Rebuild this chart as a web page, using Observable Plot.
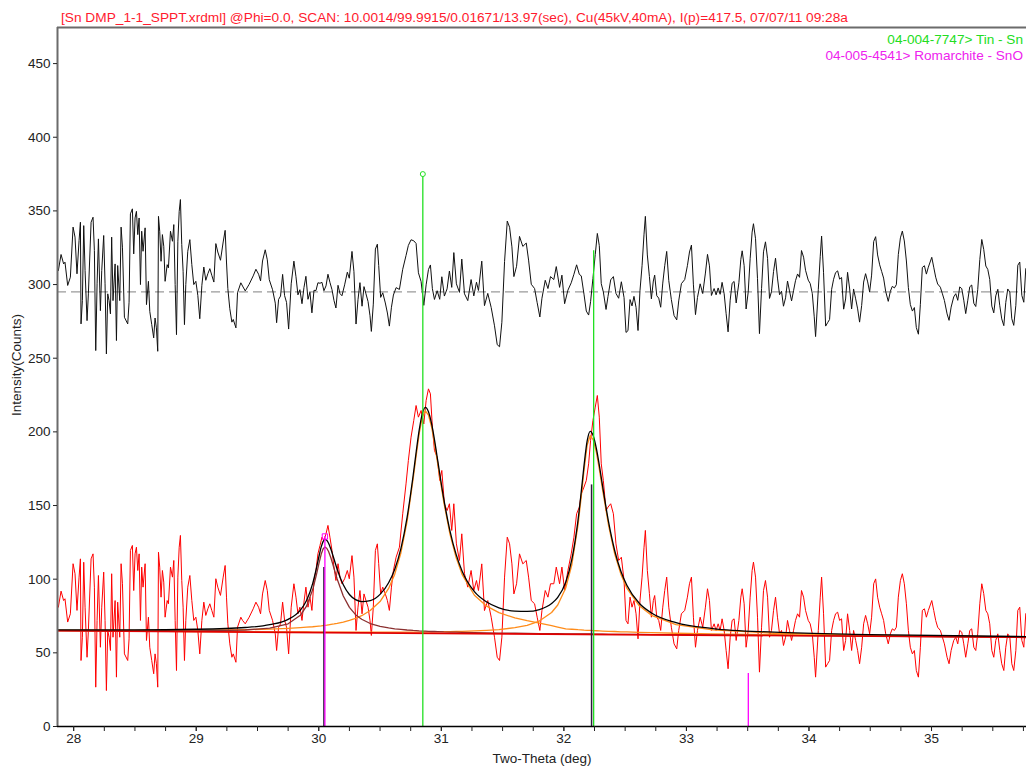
<!DOCTYPE html>
<html>
<head>
<meta charset="utf-8">
<script src="https://cdn.jsdelivr.net/npm/d3@7"></script>
<script src="https://cdn.jsdelivr.net/npm/@observablehq/plot@0.6"></script>
<style>
  html, body { margin: 0; padding: 0; background: #ffffff; }
  #wrap { position: relative; width: 1026px; height: 766px; font-family: "Liberation Sans", Arial, sans-serif; }
  #title { position: absolute; left: 61px; top: 11px; font-size: 13.7px; line-height: 14px; color: #ff1a2e; white-space: nowrap; }
  .leg { position: absolute; right: 3px; font-size: 13.6px; line-height: 14px; white-space: nowrap; text-align: right; }
  #leg1 { top: 33px; color: #22dd22; }
  #leg2 { top: 49px; color: #ee22ee; }
  #chart { position: absolute; left: 0; top: 0; }
</style>
</head>
<body>
<div id="wrap">
  <div id="chart"></div>
  <div id="title">[Sn DMP_1-1_SPPT.xrdml] @Phi=0.0, SCAN: 10.0014/99.9915/0.01671/13.97(sec), Cu(45kV,40mA), I(p)=417.5, 07/07/11 09:28a</div>
  <div id="leg1" class="leg">04-004-7747&gt; Tin - Sn</div>
  <div id="leg2" class="leg">04-005-4541&gt; Romarchite - SnO</div>
</div>
<script>
// ---------- axes ----------
const xDomain = [27.868, 35.775];
const yDomain = [0, 474.5];
const xMajorTicks = [28, 29, 30, 31, 32, 33, 34, 35];
const xMinorTicks = [28, 28.25, 28.5, 28.75, 29, 29.25, 29.5, 29.75, 30, 30.25, 30.5, 30.75,
  31, 31.25, 31.5, 31.75, 32, 32.25, 32.5, 32.75, 33, 33.25, 33.5, 33.75,
  34, 34.25, 34.5, 34.75, 35, 35.25, 35.5, 35.75];
const yTicks = [0, 50, 100, 150, 200, 250, 300, 350, 400, 450];
const xLabel = "Two-Theta (deg)";
const yLabel = "Intensity(Counts)";
const residualBase = 295;

// ---------- measured scan (2-theta, counts) and difference curve ----------
const scanX = [
27.875, 27.897, 27.918, 27.929, 27.951, 27.973, 27.995, 28.011, 28.027, 28.044,
28.055, 28.060, 28.071, 28.082, 28.093, 28.109, 28.120, 28.142, 28.158, 28.169,
28.180, 28.191, 28.202, 28.218, 28.229, 28.245, 28.256, 28.267, 28.278, 28.289,
28.300, 28.310, 28.321, 28.338, 28.349, 28.359, 28.376, 28.387, 28.398, 28.414,
28.441, 28.452, 28.463, 28.479, 28.490, 28.501, 28.512, 28.523, 28.534, 28.545,
28.555, 28.566, 28.583, 28.594, 28.610, 28.621, 28.637, 28.653, 28.664, 28.675,
28.686, 28.692, 28.702, 28.713, 28.724, 28.735, 28.746, 28.763, 28.773, 28.790,
28.806, 28.817, 28.828, 28.839, 28.850, 28.861, 28.871, 28.882, 28.893, 28.904,
28.915, 28.931, 28.948, 28.964, 28.980, 28.997, 29.013, 29.029, 29.046, 29.062,
29.078, 29.095, 29.111, 29.127, 29.144, 29.160, 29.176, 29.198, 29.220, 29.236,
29.247, 29.258, 29.274, 29.291,
29.302, 29.324, 29.337, 29.364, 29.378, 29.400, 29.432, 29.465, 29.487, 29.509,
29.525, 29.541, 29.563, 29.580, 29.596, 29.623, 29.645, 29.656, 29.672, 29.688,
29.705, 29.721, 29.737, 29.754, 29.775, 29.797, 29.814, 29.830, 29.846, 29.863,
29.879, 29.895, 29.912, 29.928, 29.944, 29.961, 29.977, 29.993, 30.010, 30.026,
30.042, 30.059, 30.075, 30.091, 30.108, 30.124, 30.140, 30.157, 30.173, 30.189,
30.211, 30.233, 30.249, 30.271, 30.287, 30.304, 30.320, 30.336, 30.353, 30.369,
30.385, 30.402, 30.418, 30.429, 30.445, 30.462, 30.478, 30.489, 30.505, 30.522,
30.543, 30.560, 30.576, 30.593, 30.609,
30.631, 30.658, 30.685, 30.712, 30.731, 30.753, 30.775, 30.794, 30.813, 30.835,
30.857, 30.876, 30.895, 30.911, 30.927, 30.944, 30.966, 30.987, 31.004, 31.025,
31.047, 31.066, 31.085, 31.102, 31.123, 31.148, 31.167, 31.189, 31.216, 31.243,
31.265, 31.287, 31.303, 31.330, 31.352, 31.379, 31.407, 31.434, 31.456, 31.475,
31.494, 31.516, 31.538, 31.557, 31.576, 31.592, 31.614, 31.638, 31.665, 31.693,
31.712, 31.734, 31.761, 31.782, 31.804, 31.821, 31.848, 31.870, 31.891, 31.918,
31.938, 31.965, 31.984, 32.006, 32.033, 32.060, 32.082, 32.104, 32.126, 32.142,
32.164, 32.183, 32.202, 32.218, 32.237, 32.256, 32.273, 32.289, 32.305, 32.322,
32.344, 32.360, 32.382, 32.404, 32.425, 32.447, 32.469,
32.491, 32.507, 32.523, 32.540, 32.556, 32.572, 32.589, 32.605, 32.621, 32.638,
32.654, 32.665, 32.681, 32.698, 32.714, 32.730, 32.741, 32.758, 32.774, 32.790,
32.807, 32.823, 32.839, 32.856, 32.877, 32.899, 32.921, 32.937, 32.959, 32.986,
33.008, 33.025, 33.041, 33.057, 33.074, 33.090, 33.112, 33.133, 33.155, 33.172,
33.188, 33.204, 33.226, 33.242, 33.259, 33.275, 33.291, 33.308, 33.324, 33.340,
33.357, 33.373, 33.389, 33.406, 33.428, 33.444, 33.455, 33.471, 33.487, 33.504,
33.520, 33.536, 33.547, 33.564, 33.580, 33.596, 33.613, 33.629, 33.645, 33.662,
33.678, 33.694, 33.711, 33.727, 33.743, 33.760, 33.776, 33.792, 33.809, 33.825,
33.841, 33.858, 33.874, 33.890, 33.907, 33.923, 33.939, 33.956, 33.972, 33.994,
34.010, 34.027, 34.043, 34.054, 34.076, 34.092, 34.103, 34.119,
34.136, 34.152, 34.168, 34.185, 34.201, 34.217, 34.234, 34.250, 34.266, 34.283,
34.299, 34.315, 34.332, 34.348, 34.364, 34.381, 34.397, 34.413, 34.430, 34.446,
34.462, 34.479, 34.495, 34.511, 34.528, 34.544, 34.560, 34.577, 34.593, 34.609,
34.626, 34.647, 34.664, 34.680, 34.697, 34.713, 34.729, 34.746, 34.762, 34.778,
34.795, 34.811, 34.827, 34.844, 34.860, 34.876, 34.893, 34.909, 34.925, 34.942,
34.958, 34.974, 35.002, 35.018, 35.034, 35.050, 35.072, 35.089, 35.105, 35.127,
35.143, 35.160, 35.181, 35.198, 35.214, 35.230, 35.247, 35.263, 35.279, 35.296,
35.312, 35.328, 35.345, 35.361, 35.377, 35.394, 35.410, 35.426, 35.443, 35.459,
35.475, 35.492, 35.508, 35.524, 35.541, 35.557, 35.573, 35.590, 35.606, 35.622,
35.639, 35.655, 35.671, 35.688, 35.704, 35.720, 35.737, 35.753, 35.769, 35.786
];
const scanCounts = [
81, 91.9, 85.5, 86.7, 70.9, 76.5, 110.5, 103.7, 78.8, 101.4,
113.8, 44.8, 60.6, 111.5, 81, 47, 65.2, 113.8, 117.2, 94.6,
26.7, 72, 102.5, 53.8, 81, 104.8, 72, 24.4, 65.2, 60.6,
51.6, 103.7, 60.6, 85.5, 33.5, 84.4, 60.6, 110.5, 96.9, 49.3,
44.8, 59.5, 119.5, 122.9, 92.3, 117.2, 121.7, 105.9, 117.2, 72,
108.2, 94.6, 110.5, 58.4, 74.2, 53.8, 44.8, 35.8, 49.3, 42.6,
26.7, 118.3, 108.2, 87.8, 105.9, 98, 74.2, 85.5, 83.3, 108.2,
101.4, 112.7, 72, 38, 101.4, 121.7, 129.7, 99.1, 81, 44.8,
72, 94.6, 102.5, 85.5, 72, 74.2, 65.2, 49.3, 72, 84.4,
75.4, 79.9, 83.3, 78.8, 74.2, 100.3, 94.6, 89, 101.4, 109.3,
87.8, 69.7, 56.1, 47,
49.3, 43.6, 67.4, 74.2, 72, 69.7, 74.2, 79.9, 84.4, 81,
76.5, 90, 99.1, 92.3, 78.8, 72, 62.9, 51.6, 67.4, 69.7,
84.4, 72, 67.4, 49.3, 81, 96.9, 87.8, 76.5, 81, 72,
84.4, 94.6, 81, 87.8, 78.8, 99.1, 105.9, 117.2, 122.9, 128.5,
126.3, 130.8, 136.5, 128.5, 119.5, 108.2, 99.1, 110.5, 101.4, 96.9,
100.3, 105.9, 100.3, 116, 101.4, 65.2, 81, 92.3, 76.5, 90,
85.5, 81, 72, 61.8, 81, 119.5, 124, 110.5, 90, 94.6,
90, 85.5, 78.8, 94.6, 105.9,
114.9, 121.7, 144.4, 164.7, 180.6, 196.4, 207.7, 217.9, 210, 214.5,
205.4, 221.3, 229.2, 225.8, 203.2, 187.4, 182.8, 167, 173.8, 151.2,
146.6, 151.2, 133.1, 151.2, 124, 112.7, 130.8, 103.7, 94.6, 105.9,
92.3, 99.1, 92.3, 110.4, 78.7, 85.5, 74.2, 60.6, 47, 44.8,
60.6, 101.4, 128.5, 124, 110.4, 90, 96.9, 117.2, 110.4, 112.7,
101.4, 85.5, 83.3, 74.2, 65.2, 78.7, 92.3, 87.8, 96.9, 96.9,
108.2, 96.9, 108.2, 92.3, 105.9, 117.2, 128.5, 144.4, 148.9, 157.9,
162.5, 167, 178.3, 194.2, 207.7, 216.8, 224.7, 210, 178.3, 167,
146.6, 148.9, 151.2, 144.4, 124, 112.7, 114.9,
99.1, 72, 69.7, 87.8, 81, 85.5, 76.5, 59.5, 85.5, 101.4,
121.7, 133.1, 105.9, 90.2, 74.2, 85.5, 88.9, 74.2, 72, 65.2,
81, 92.3, 101.4, 81, 67.4, 56.1, 52.7, 65.2, 76.5, 78.8,
87.8, 96.9, 101.4, 74.2, 53.8, 65.2, 74.2, 67.4, 81, 93.5,
85.5, 65.2, 69.7, 65.2, 69.7, 65.2, 73.1, 65.2, 51.6, 39.2,
60.6, 72, 73.1, 58.4, 72, 87.8, 93.5, 83.3, 53.8, 65.2,
87.8, 105.9, 111.6, 101.4, 74.2, 36.9, 67.4, 92.3, 99.1, 87.8,
60.6, 65.2, 78.8, 87.8, 74.2, 62.9, 65.2, 55, 60.6, 72,
65.2, 58.4, 65.2, 72, 76.5, 74.2, 92.3, 87.8, 78.8, 72,
69.7, 62.9, 47, 33.5, 65.2, 87.8, 101.4, 76.5,
40.3, 42.6, 44.8, 65.2, 72, 76.5, 77.6, 72, 73.1, 51.6,
58.4, 76.5, 65.2, 51.6, 65.2, 58.4, 51.6, 42.6, 53.8, 69.7,
75.4, 69.7, 62.9, 74.2, 96.9, 100.2, 87.8, 81, 76.5, 72,
62.9, 56.1, 62.9, 66.3, 65.2, 67.4, 87.8, 99.1, 103.7, 96.9,
83.3, 65.2, 53.8, 49.3, 51.6, 38, 33.5, 53.8, 78.8, 79.9,
74.2, 78.8, 85.5, 78.8, 72, 67.4, 65.2, 60.6, 56.1, 47,
42.6, 51.6, 58.4, 60.6, 56.1, 65.2, 64, 56.1, 47, 56.1,
65.2, 66.3, 53.8, 51.6, 62.9, 83.3, 96.9, 90.2, 78.8, 76.5,
69.7, 51.6, 47, 58.4, 62.9, 51.6, 42.6, 38, 53.8, 62.9,
60.6, 42.6, 38, 51.6, 78.8, 81, 58.4, 53.8, 76.5, 78.8
];
const scanResidual = [
309.5, 320.4, 314, 315.2, 299.4, 305, 339, 332.2, 307.3, 329.9,
342.3, 273.3, 289.1, 340, 309.5, 275.5, 293.7, 342.3, 345.7, 323.1,
255.2, 300.5, 331, 282.3, 309.5, 333.3, 300.5, 252.9, 293.7, 289.1,
280.1, 332.2, 289.1, 314, 262, 312.9, 289.1, 339, 325.4, 277.8,
273.3, 288, 348, 351.4, 320.8, 345.2, 349.7, 333.9, 345.2, 300,
336.2, 322.6, 338.5, 286.4, 302.2, 281.8, 272.8, 263.8, 277.3, 270.6,
254.7, 346.3, 336.2, 315.8, 333.9, 326, 302.2, 313.5, 311.3, 336.2,
329.4, 340.7, 300, 266, 329.4, 349.7, 357.7, 327.1, 309, 272.8,
300, 322.6, 330.5, 313.5, 300, 302.2, 292.7, 276.8, 299.5, 311.9,
302.9, 307.4, 310.8, 306.3, 301.7, 327.8, 322.1, 316.5, 328.9, 336.8,
315.3, 297.2, 283.6, 274.5,
276.3, 270.6, 294.4, 301.2, 299, 295.7, 300.2, 305.9, 310.4, 307,
302.5, 316, 323.6, 316.8, 303.3, 296.5, 287.4, 274.1, 289.9, 292.2,
306.9, 292.5, 287.9, 269.8, 300.5, 315.9, 305.3, 293, 296.5, 287,
297.9, 305.6, 290, 294.8, 280.8, 296.1, 295.9, 301.2, 300.9, 301.5,
295.8, 299.1, 307, 301.5, 296.5, 289.2, 284.1, 299.5, 293.9, 292.4,
299.8, 308.4, 304.3, 322.5, 308.7, 273.2, 289.7, 301.3, 285.3, 298.6,
293.7, 288.5, 278.8, 268.2, 286.7, 324.1, 327.4, 313, 291.3, 294.4,
287.5, 280.7, 271.8, 284.6, 292.9,
297.9, 296.7, 310.4, 319.7, 326.6, 330.4, 329.7, 327.9, 308, 302,
285.9, 299.8, 310.2, 313.3, 297.2, 289.9, 295.8, 290, 305.3, 292.2,
297.1, 309.2, 298.1, 321.7, 300.5, 294.7, 317.3, 293.7, 289.1, 303.4,
292.3, 301.6, 296, 315.9, 285.7, 294, 284.4, 272, 259.2, 257.8,
274.4, 315.6, 343.1, 338.9, 325.6, 305.4, 312.4, 332.7, 325.9, 328.2,
316.6, 300.2, 297.3, 287.7, 278, 290.7, 302.9, 297.3, 305.4, 303.4,
312.2, 298.1, 306.4, 287, 296.2, 301.2, 307, 313.4, 306.9, 305.9,
293.5, 282, 279.3, 288.4, 304.1, 320.3, 334.7, 326.5, 300.6, 295,
283.1, 291.9, 303.2, 305.4, 294, 290.7, 301.9,
291.1, 267.5, 268.7, 289.8, 285.5, 292, 284.5, 268.8, 295.8, 312.8,
334.2, 346.3, 320.1, 305.4, 290.3, 302.4, 306.4, 292.4, 290.8, 284.6,
301, 312.8, 322.5, 302.7, 289.8, 279, 276, 288.9, 300.6, 303.4,
312.8, 322.1, 326.8, 299.8, 279.6, 291.2, 300.5, 293.9, 307.8, 320.5,
312.7, 292.6, 297.3, 293, 297.7, 293.4, 301.5, 293.7, 280.2, 267.9,
289.4, 300.9, 302.1, 287.5, 301.2, 317.1, 322.9, 312.8, 283.4, 294.8,
317.5, 335.6, 341.3, 331.1, 304, 266.7, 297.2, 322.2, 329, 317.8,
290.6, 295.2, 308.9, 317.9, 304.4, 293.1, 295.5, 285.3, 291, 302.4,
295.7, 288.9, 295.8, 302.6, 307.2, 304.9, 323.1, 318.6, 309.7, 303,
300.7, 294, 278.1, 264.7, 296.5, 319.2, 332.9, 308,
271.8, 274.1, 276.3, 296.8, 303.6, 308.1, 309.3, 303.7, 304.8, 283.3,
290.2, 308.3, 297, 283.4, 297, 290.3, 283.5, 274.5, 285.8, 301.7,
307.4, 301.8, 295, 306.4, 329.2, 332.5, 320.1, 313.4, 308.9, 304.4,
295.3, 288.6, 295.4, 298.8, 297.7, 299.9, 320.4, 331.7, 336.3, 329.6,
316, 297.9, 286.5, 282, 284.4, 270.8, 266.3, 286.6, 311.6, 312.8,
307.1, 311.8, 318.5, 311.8, 305, 300.4, 298.2, 293.7, 289.2, 280.1,
275.7, 284.7, 291.6, 293.8, 289.3, 298.4, 297.2, 289.4, 280.3, 289.4,
298.5, 299.7, 287.3, 285.1, 296.5, 316.9, 330.6, 323.9, 312.6, 310.3,
303.5, 285.4, 280.8, 292.3, 296.8, 285.6, 276.7, 272.1, 287.9, 297,
294.8, 276.8, 272.3, 285.9, 313.1, 315.3, 292.6, 288, 310.7, 313
];

// ---------- profile fit ----------
const fitX = [27.868, 28.5, 29.0, 29.4, 29.6, 29.75, 29.85, 29.9, 29.95, 29.98,
  30.0, 30.02, 30.035, 30.05, 30.065, 30.08, 30.1, 30.125, 30.15, 30.2,
  30.25, 30.3, 30.35, 30.42, 30.5, 30.57, 30.62, 30.67, 30.72, 30.77,
  30.795, 30.82, 30.845, 30.87, 30.895, 30.92, 30.945, 30.97, 31.02, 31.07,
  31.12, 31.17, 31.27, 31.37, 31.47, 31.6, 31.7, 31.8, 31.9, 31.95,
  32.015, 32.065, 32.115, 32.14, 32.165, 32.19, 32.215, 32.24, 32.265, 32.29,
  32.315, 32.365, 32.415, 32.465, 32.515, 32.615, 32.715, 32.915, 33.215, 33.715,
  34.5, 35.79];
const fitTotal = [65.6, 65.6, 66.0, 67.2, 69.1, 72.7, 79.0, 85.5, 97.0, 107.2,
  114.9, 121.9, 125.5, 127.0, 126.4, 124.4, 120.1, 113.5, 106.8, 96.2,
  89.6, 86.1, 84.8, 85.5, 89.7, 97.6, 106.8, 120.8, 141.6, 170.4,
  186.5, 201.5, 212.4, 216.6, 213.7, 205.7, 194.2, 180.8, 154.5, 133.0,
  117.0, 105.4, 91.5, 84.5, 80.6, 78.3, 78.1, 79.4, 83.5, 87.6,
  97.9, 113.4, 139.8, 157.9, 177.6, 193.9, 200.4, 197.3, 188.8, 177.0,
  163.7, 138.7, 119.3, 105.4, 95.7, 83.7, 77.1, 70.5, 66.5, 64.0,
  62.4, 61.0];
const fitSnO = [65.1, 64.9, 64.9, 65.5, 66.8, 69.7, 75.5, 81.7, 92.8, 102.7,
  110.2, 117.0, 120.5, 121.8, 121.0, 118.8, 114.2, 107.2, 100.1, 88.6,
  80.9, 75.9, 72.8, 69.9, 68.0, 66.9, 66.3, 65.9, 65.5, 65.2,
  65.1, 64.9, 64.8, 64.7, 64.6, 64.5, 64.5, 64.4, 64.2, 64.1,
  64.0, 63.9, 63.7, 63.6, 63.4, 63.3, 63.2, 63.1, 63.0, 63.0,
  62.9, 62.9, 62.8, 62.8, 62.8, 62.8, 62.8, 62.7, 62.7, 62.7,
  62.7, 62.6, 62.6, 62.6, 62.5, 62.5, 62.4, 62.3, 62.1, 61.8,
  61.3, 60.5];
const fitSnPeak1 = [65.4, 65.2, 65.3, 65.7, 66.1, 66.6, 67.1, 67.4, 67.7, 68.0,
  68.2, 68.3, 68.5, 68.7, 68.8, 69.0, 69.3, 69.6, 70.0, 70.9,
  72.0, 73.4, 75.2, 78.7, 84.8, 93.7, 103.4, 117.8, 138.9, 168.0,
  184.1, 199.2, 210.2, 214.3, 211.4, 203.5, 192.0, 178.6, 152.3, 130.8,
  114.8, 103.1, 89.1, 81.7, 77.3, 73.7, 71.8, 70.2, 68.5, 67.5,
  66.3, 66.0, 65.7, 65.6, 65.4, 65.3, 65.2, 65.1, 65.0, 64.9,
  64.8, 64.6, 64.5, 64.3, 64.2, 63.9, 63.7, 63.3, 62.9, 62.3,
  61.6, 60.7];
const fitSnPeak2 = [65.1, 64.8, 64.5, 64.3, 64.3, 64.2, 64.2, 64.2, 64.1, 64.1,
  64.1, 64.1, 64.1, 64.1, 64.1, 64.1, 64.1, 64.1, 64.1, 64.0,
  64.0, 64.0, 64.0, 64.0, 64.0, 64.0, 64.1, 64.1, 64.1, 64.1,
  64.1, 64.1, 64.1, 64.2, 64.2, 64.2, 64.3, 64.3, 64.4, 64.4,
  64.5, 64.6, 64.9, 65.3, 65.8, 67.1, 68.7, 71.6, 77.4, 82.5,
  94.0, 109.8, 136.5, 154.7, 174.5, 191.0, 197.5, 194.5, 186.2, 174.4,
  161.2, 136.4, 117.1, 103.4, 93.7, 81.9, 75.5, 69.2, 65.6, 63.3,
  61.9, 60.8];
const bgX = [27.868, 35.775];
const bgCounts = [65.0, 60.5];

// ---------- reference / peak sticks ----------
const tinX = [30.849, 32.243];
const tinH = [375, 323];
const romX = [30.05, 33.505];
const romH = [129, 36];
const peakX = [30.042, 32.226];
const peakH = [108, 164];

// ---------- build tables ----------
const scan = scanX.map((x, i) => ({x, y: scanCounts[i], r: scanResidual[i]}));
const fit = fitX.map((x, i) => ({x, t: fitTotal[i], a: fitSnO[i], b: fitSnPeak1[i], c: fitSnPeak2[i]}));
const bg = bgX.map((x, i) => ({x, y: bgCounts[i]}));
const tin = tinX.map((x, i) => ({x, h: tinH[i]}));
const rom = romX.map((x, i) => ({x, h: romH[i]}));
const peaks = peakX.map((x, i) => ({x, h: peakH[i]}));

const chart = Plot.plot({
  width: 1026,
  height: 766,
  marginLeft: 57,
  marginRight: 0,
  marginTop: 27,
  marginBottom: 40,
  x: {domain: xDomain},
  y: {domain: yDomain},
  style: {fontFamily: '"Liberation Sans", Arial, sans-serif', fontSize: "13.5px", color: "#222", background: "transparent"},
  marks: [
    Plot.line(scan, {x: "x", y: "y", stroke: "#ff0000", strokeWidth: 1, clip: true}),
    Plot.line(fit, {x: "x", y: "b", stroke: "#ff8c1a", strokeWidth: 1.3, clip: true}),
    Plot.line(fit, {x: "x", y: "c", stroke: "#ff8c1a", strokeWidth: 1.3, clip: true}),
    Plot.line(fit, {x: "x", y: "a", stroke: "#8b3030", strokeWidth: 1.3, clip: true}),
    Plot.line(bg, {x: "x", y: "y", stroke: "#e00000", strokeWidth: 1.6, clip: true}),
    Plot.line(fit, {x: "x", y: "t", stroke: "#000000", strokeWidth: 1.3, clip: true, curve: "monotone-x"}),
    Plot.ruleY([residualBase], {stroke: "#9a9a9a", strokeWidth: 1.2, strokeDasharray: "9,5"}),
    Plot.line(scan, {x: "x", y: "r", stroke: "#111111", strokeWidth: 1, clip: true}),
    Plot.ruleX(peaks, {x: "x", y1: 0, y2: "h", stroke: "#2a1a3a", strokeWidth: 1.5}),
    Plot.ruleX(rom, {x: "x", y1: 0, y2: "h", stroke: "#ff00ff", strokeWidth: 1.3}),
    Plot.ruleX(tin, {x: "x", y1: 0, y2: "h", stroke: "#22e022", strokeWidth: 1.3}),
    Plot.dot(tin.slice(0, 1), {x: "x", y: "h", r: 2.5, stroke: "#22e022", fill: "white", strokeWidth: 1}),
    Plot.dot(rom.slice(0, 1), {x: "x", y: "h", r: 3, symbol: "square", stroke: "#ff00ff", fill: "none", strokeWidth: 1}),
    // frame
    Plot.ruleX([xDomain[0]], {stroke: "#6b6b6b", strokeWidth: 2}),
    Plot.ruleY([yDomain[1]], {stroke: "#6b6b6b", strokeWidth: 2}),
    Plot.ruleY([yDomain[0]], {stroke: "#000000", strokeWidth: 1.6}),
    // axes
    Plot.axisY({ticks: yTicks, tickSize: 4, tickPadding: 3, label: null}),
    Plot.axisX({ticks: xMajorTicks, tickSize: 5, tickPadding: 2, label: null}),
    Plot.axisX({ticks: xMinorTicks, tickSize: 5, tickFormat: () => "", label: null}),
    Plot.text([xLabel], {frameAnchor: "bottom", dy: 36, lineAnchor: "bottom", textAnchor: "middle", fill: "#222", fontSize: 13.5}),
    Plot.text([yLabel], {frameAnchor: "left", dx: -41, dy: -12, rotate: -90, textAnchor: "middle", lineAnchor: "middle", fill: "#222", fontSize: 13.5})
  ]
});
document.getElementById("chart").appendChild(chart);
</script>
</body>
</html>
